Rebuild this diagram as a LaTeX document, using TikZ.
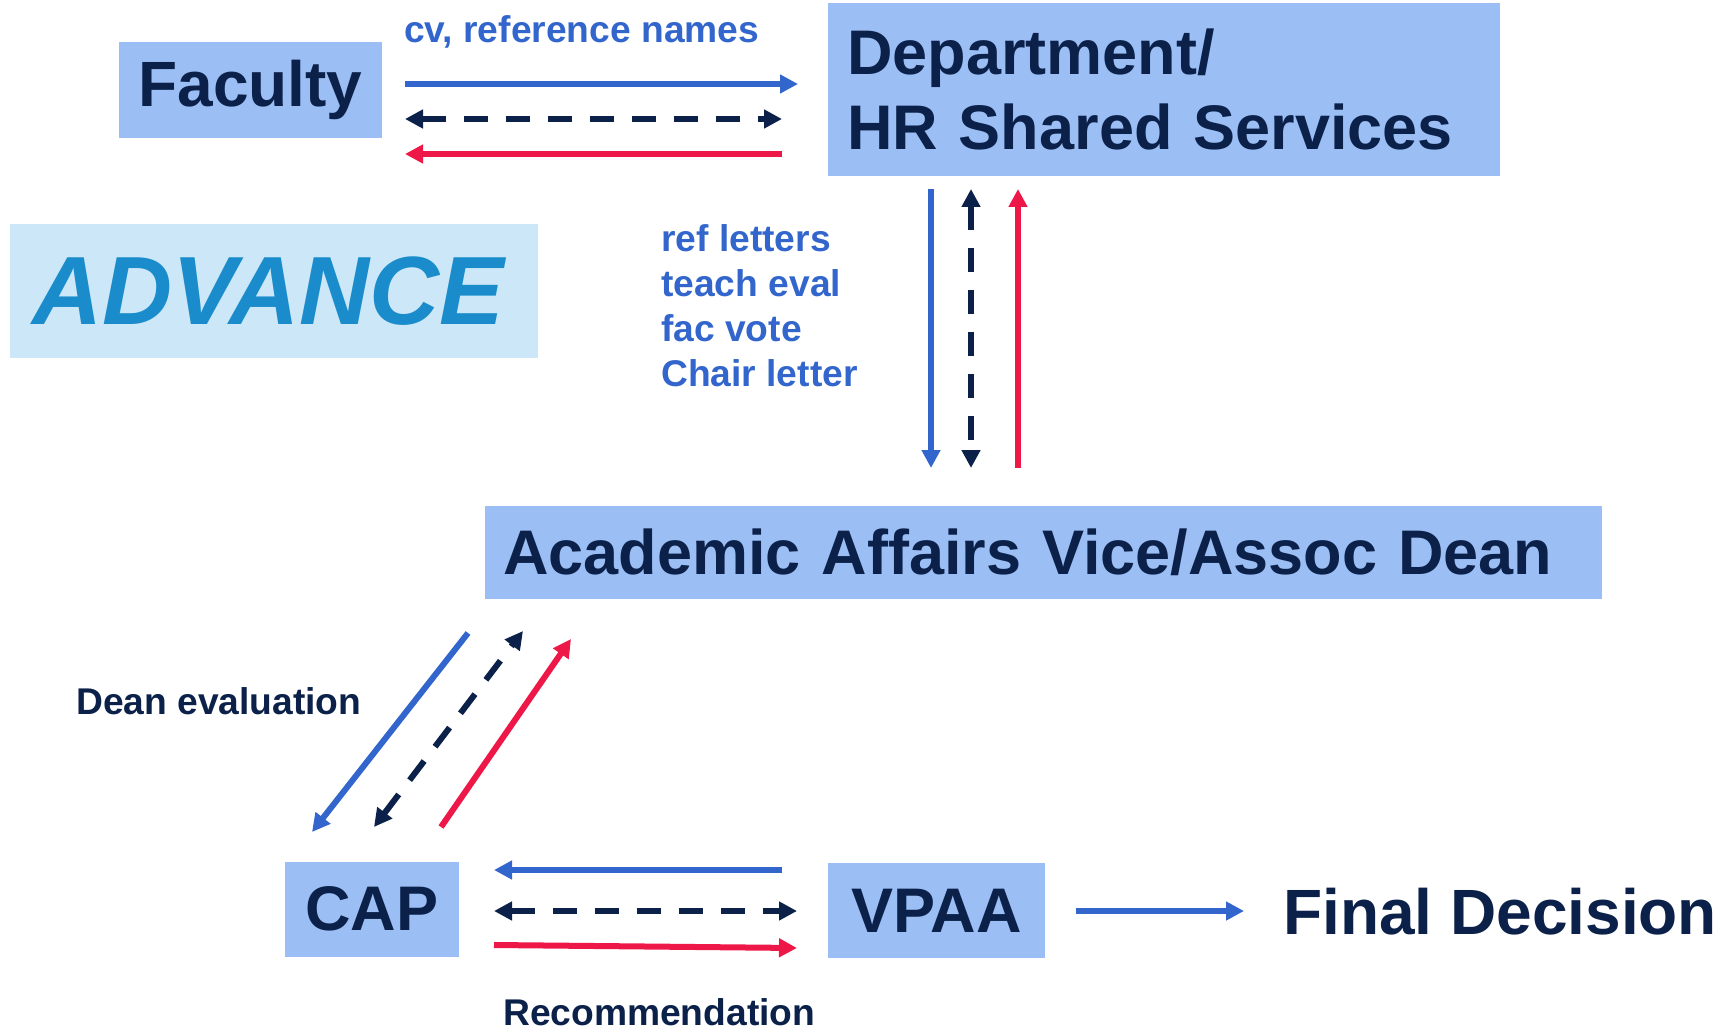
\documentclass[tikz,border=0pt]{standalone}
\usepackage{fontspec}
\setmainfont{Liberation Sans}
\usetikzlibrary{arrows.meta}
\definecolor{navy}{HTML}{0B2149}
\definecolor{boxblue}{HTML}{9BBEF5}
\definecolor{arrblue}{HTML}{3366CC}
\definecolor{arrred}{HTML}{EE1848}
\definecolor{advfill}{HTML}{CCE8F8}
\definecolor{advtext}{HTML}{1A8CCB}

\begin{document}
\begin{tikzpicture}[x=1pt,y=-1pt,>={Triangle[length=18pt,width=18pt]}]
	\tikzstyle{box}=[fill=boxblue,text=navy,font=\fontsize{63}{75}\selectfont\bfseries,inner sep=0pt]
	\tikzstyle{lab}=[font=\fontsize{37.2}{45}\selectfont\bfseries,inner sep=0pt]
	\tikzstyle{fwd}=[arrblue,line width=6pt,->]
	\tikzstyle{ret}=[arrred,line width=6pt,->]
	\tikzstyle{both}=[navy,line width=6pt,<->,dash pattern=on 24pt off 18pt]
	\useasboundingbox (0,0) rectangle (1731,1032);
		\node[box,minimum width=263pt,minimum height=96pt,font=\fontsize{64}{75}\selectfont\bfseries] (fac) at (250.5,90) {Faculty};
		\node[box,minimum height=173pt,text width=634pt,align=left,inner xsep=19pt] (dept) at (1164,89.5) {Department/\\HR Shared Services};
		\node[fill=advfill,text=advtext,font=\fontsize{97}{110}\selectfont\bfseries\itshape,minimum height=134pt,text width=484pt,align=left,inner xsep=22pt,inner ysep=0pt] (adv) at (274,291) {ADVANCE};
		\node[box,minimum height=93pt,text width=1081pt,align=left,inner xsep=18pt] (aad) at (1043.5,552.5) {Academic Affairs Vice/Assoc Dean};
		\node[box,minimum width=174pt,minimum height=95pt] (cap) at (372,909) {CAP};
		\node[box,minimum width=217pt,minimum height=95pt] (vpaa) at (936.5,910.5) {VPAA};
		\node[box,fill=none,anchor=west,font=\fontsize{64}{75}\selectfont\bfseries] (fin) at (1283,912) {Final Decision};
		\node[lab,text=arrblue,anchor=base west] (cvlab) at (404,43) {cv, reference names};
		\node[lab,text=arrblue,align=left,anchor=north west] (reflab) at (661,224) {ref letters\\teach eval\\fac vote\\Chair letter};
		\node[lab,text=navy,anchor=base west] (deanlab) at (76,714) {Dean evaluation};
		\node[lab,text=navy,anchor=base west] (reclab) at (503,1025) {Recommendation};
	% faculty <-> department
		\coordinate (fd1) at (405,84);  \coordinate (fd2) at (798,84);
		\coordinate (fd3) at (405,119); \coordinate (fd4) at (782,119);
		\coordinate (fd5) at (782,154); \coordinate (fd6) at (405,154);
			\draw[fwd] (fd1) -- (fd2);
			\draw[both] (fd3) -- (fd4);
			\draw[ret] (fd5) -- (fd6);
	% department <-> academic affairs
		\coordinate (da1) at (931,189);  \coordinate (da2) at (931,468);
		\coordinate (da3) at (971,189);  \coordinate (da4) at (971,468);
		\coordinate (da5) at (1018,468); \coordinate (da6) at (1018,189);
			\draw[fwd] (da1) -- (da2);
			\draw[both] (da3) -- (da4);
			\draw[ret] (da5) -- (da6);
	% academic affairs <-> cap
		\coordinate (ac1) at (468,633); \coordinate (ac2) at (312,832);
		\coordinate (ac3) at (374,827); \coordinate (ac4) at (523,631);
		\coordinate (ac5) at (441,827); \coordinate (ac6) at (571,639);
			\draw[fwd] (ac1) -- (ac2);
			\draw[both] (ac3) -- (ac4);
			\draw[ret] (ac5) -- (ac6);
	% vpaa <-> cap
		\coordinate (cv1) at (782,870); \coordinate (cv2) at (494,870);
		\coordinate (cv3) at (494,911); \coordinate (cv4) at (797,911);
		\coordinate (cv5) at (494,945); \coordinate (cv6) at (797,948);
			\draw[fwd] (cv1) -- (cv2);
			\draw[both] (cv3) -- (cv4);
			\draw[ret] (cv5) -- (cv6);
	% decision
		\coordinate (vf1) at (1076,911); \coordinate (vf2) at (1244,911);
			\draw[fwd] (vf1) -- (vf2);
\end{tikzpicture}
\end{document}
